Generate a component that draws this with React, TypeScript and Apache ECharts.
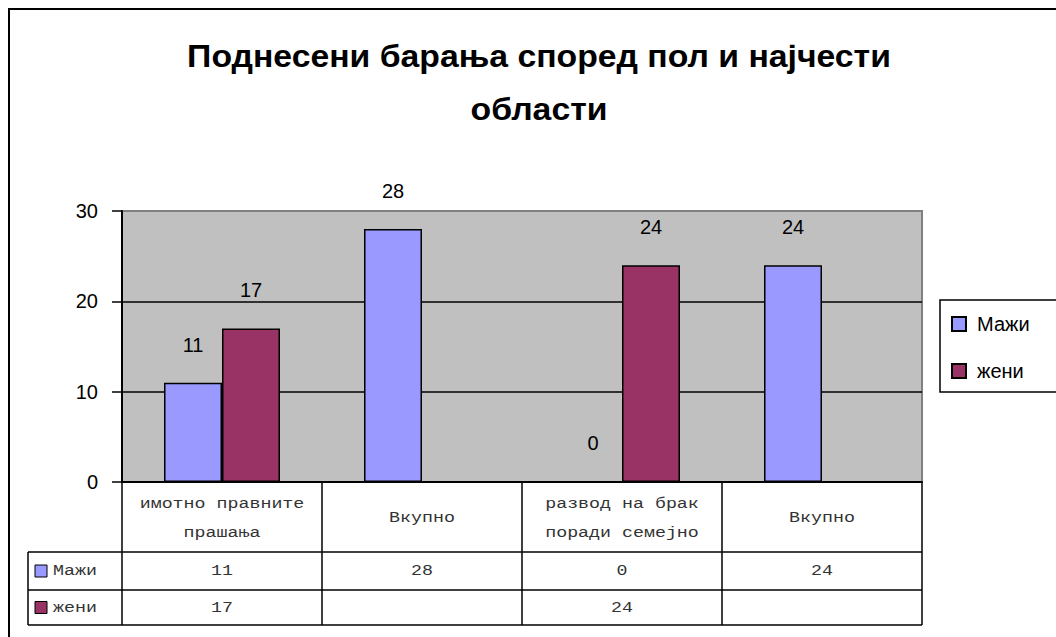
import React, { useEffect, useRef } from "react";
import * as echarts from "echarts";

// ---- data ----
const titleLines = ["Поднесени барања според пол и најчести", "области"];
const categories = ["имотно правните\nпрашања", "Вкупно", "развод на брак\nпоради семејно", "Вкупно"];
const seriesNames = ["Мажи", "жени"];
const maziValues: (number | null)[] = [11, 28, 0, 24];
const zeniValues: (number | null)[] = [17, null, 24, null];
const seriesColors = ["#9999FF", "#993366"];
const yMin = 0;
const yMax = 30;
const yInterval = 10;

// ---- layout ----
const W = 1056;
const H = 637;
const gridLeft = 122;
const gridRight = 922;
const gridTop = 211;
const gridBottom = 482;
const headerBottom = 552;
const row1Bottom = 590;
const row2Bottom = 625;
const tableLeft = 28;
const FONT = "'Liberation Sans', Arial, sans-serif";
const MONO = "'Liberation Mono', 'Courier New', monospace";
const tableTextStyle = { fontFamily: MONO, fontSize: 15, fill: "#333" };
const tableScaleX = 1.22;

function buildTable(): any[] {
  const els: any[] = [];
  const n = categories.length;
  const colW = (gridRight - gridLeft) / n;
  const line = (x1: number, y1: number, x2: number, y2: number) => ({
    type: "line",
    shape: { x1, y1, x2, y2 },
    style: { stroke: "#000", lineWidth: 1.5 },
    silent: true,
  });
  for (let i = 0; i <= n; i++) {
    const x = Math.round(gridLeft + i * colW);
    els.push(line(x, gridBottom, x, row2Bottom));
  }
  els.push(line(tableLeft, headerBottom, tableLeft, row2Bottom));
  [headerBottom, row1Bottom, row2Bottom].forEach((y) => els.push(line(tableLeft, y, gridRight, y)));
  categories.forEach((c, i) => {
    els.push({
      type: "text",
      x: gridLeft + (i + 0.5) * colW,
      y: (gridBottom + headerBottom) / 2 + 1,
      scaleX: tableScaleX,
      silent: true,
      style: {
        ...tableTextStyle,
        text: c,
        lineHeight: 29,
        align: "center",
        verticalAlign: "middle",
      },
    });
  });
  const rows = [maziValues, zeniValues];
  const rowTops = [headerBottom, row1Bottom];
  const rowBottoms = [row1Bottom, row2Bottom];
  rows.forEach((vals, r) => {
    const cy = (rowTops[r] + rowBottoms[r]) / 2;
    els.push({
      type: "rect",
      shape: { x: 35, y: cy - 6, width: 12, height: 12 },
      style: { fill: seriesColors[r], stroke: "#000", lineWidth: 1 },
      silent: true,
    });
    els.push({
      type: "text",
      x: 53,
      y: cy,
      scaleX: tableScaleX,
      silent: true,
      style: {
        ...tableTextStyle,
        text: seriesNames[r],
        align: "left",
        verticalAlign: "middle",
      },
    });
    vals.forEach((v, i) => {
      if (v === null) return;
      els.push({
        type: "text",
        x: gridLeft + (i + 0.5) * colW,
        y: cy,
        scaleX: tableScaleX,
        silent: true,
        style: {
          ...tableTextStyle,
          text: String(v),
          align: "center",
          verticalAlign: "middle",
        },
      });
    });
  });
  return els;
}

export default function App() {
  const ref = useRef<HTMLDivElement>(null);
  useEffect(() => {
    if (!ref.current) return;
    const chart = echarts.init(ref.current, undefined, { renderer: "svg" });
    const barLabel = {
      show: true,
      position: "top",
      distance: 28,
      fontSize: 20,
      fontFamily: FONT,
      color: "#000",
    };
    chart.setOption({
      animation: false,
      backgroundColor: "#fff",
      grid: {
        left: gridLeft,
        top: gridTop,
        width: gridRight - gridLeft,
        height: gridBottom - gridTop,
        show: true,
        backgroundColor: "#C0C0C0",
        borderColor: "#808080",
        borderWidth: 2,
      },
      legend: {
        orient: "vertical",
        left: 946,
        top: 309,
        itemWidth: 14,
        itemHeight: 14,
        itemGap: 27,
        icon: "rect",
        data: seriesNames,
        textStyle: { fontSize: 20, fontFamily: FONT, color: "#000", padding: [0, 0, 0, 6] },
      },
      xAxis: {
        type: "category",
        data: categories.map((_, i) => String(i)),
        axisLine: { show: true, lineStyle: { color: "#000", width: 2 } },
        axisTick: { show: false },
        axisLabel: { show: false },
        splitLine: { show: false },
      },
      yAxis: {
        type: "value",
        min: yMin,
        max: yMax,
        interval: yInterval,
        axisLine: { show: true, lineStyle: { color: "#000", width: 2 } },
        axisTick: { show: true, length: 10, lineStyle: { color: "#000", width: 1.5 } },
        axisLabel: { fontSize: 20, fontFamily: FONT, color: "#000", margin: 24 },
        splitLine: { show: true, lineStyle: { color: ["#000", "#000", "#000", "#808080"], width: 1.5 } },
      },
      series: [
        {
          name: seriesNames[0],
          type: "bar",
          data: maziValues,
          barWidth: 58,
          barGap: "0%",
          itemStyle: { color: seriesColors[0], borderColor: "#000", borderWidth: 1.5 },
          label: barLabel,
        },
        {
          name: seriesNames[1],
          type: "bar",
          data: zeniValues,
          barWidth: 58,
          barGap: "0%",
          itemStyle: { color: seriesColors[1], borderColor: "#000", borderWidth: 1.5 },
          label: barLabel,
        },
      ],
      graphic: [
        {
          type: "text",
          x: 539,
          y: 82,
          scaleX: 1.055,
          silent: true,
          style: {
            text: titleLines.join("\n"),
            fontFamily: FONT,
            fontSize: 32,
            fontWeight: "bold",
            lineHeight: 53,
            fill: "#000",
            align: "center",
            verticalAlign: "middle",
          },
        },
        {
          type: "line",
          shape: { x1: 9, y1: 9, x2: 9, y2: H },
          style: { stroke: "#000", lineWidth: 2 },
          silent: true,
        },
        {
          type: "line",
          shape: { x1: 8, y1: 9, x2: W, y2: 9 },
          style: { stroke: "#000", lineWidth: 2 },
          silent: true,
        },
        {
          type: "rect",
          shape: { x: 940, y: 300, width: 130, height: 92 },
          style: { fill: "transparent", stroke: "#000", lineWidth: 1.5 },
          silent: true,
        },
        ...buildTable(),
      ],
    });
    return () => chart.dispose();
  }, []);
  return (
    <div
      ref={ref}
      style={{ position: "absolute", left: 0, top: 0, width: W, height: H }}
    />
  );
}
